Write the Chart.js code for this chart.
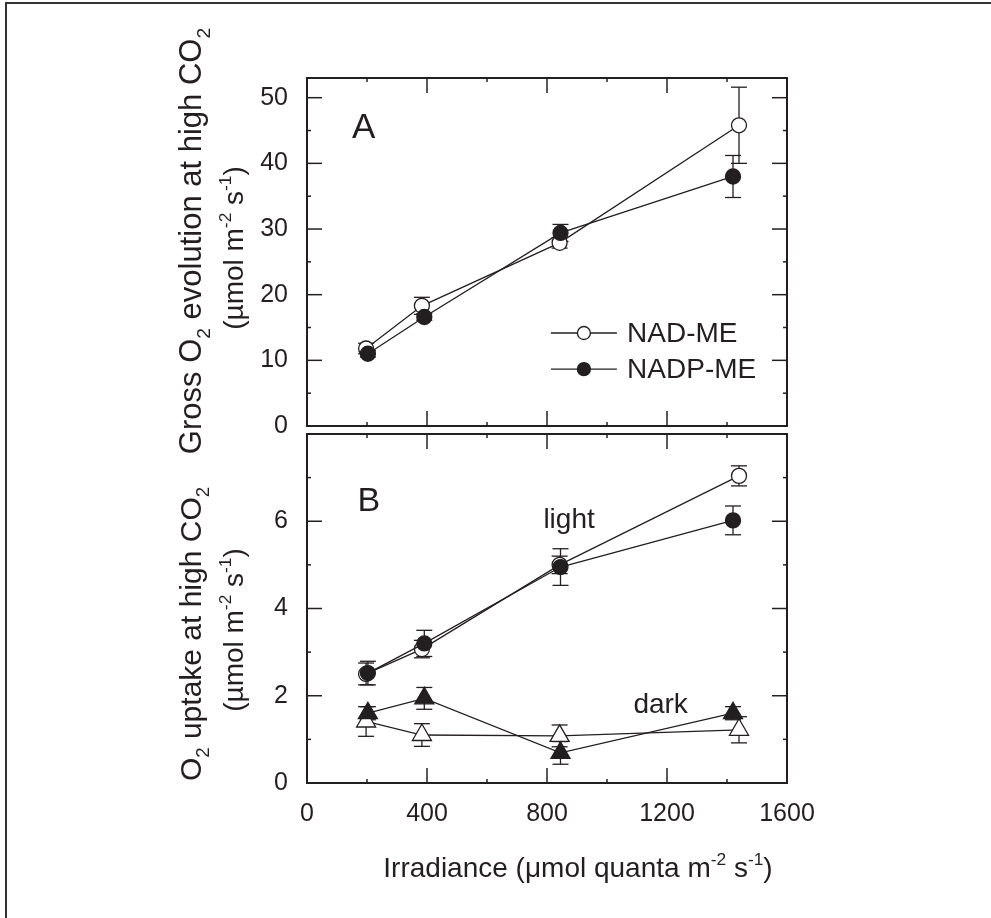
<!DOCTYPE html>
<html>
<head>
<meta charset="utf-8">
<script src="https://cdn.jsdelivr.net/npm/chart.js@4.4.0/dist/chart.umd.min.js"></script>
<style>
  body { margin: 0; background: #fff; }
  #wrap { position: relative; width: 991px; height: 918px; overflow: hidden; background: #fff; }
  #frame { position: absolute; left: 5px; top: 2px; width: 1100px; height: 1100px;
           border-top: 2px solid #333; border-left: 2px solid #333; }
  canvas { position: absolute; left: 0; }
  #cA { top: 0; }
  #cB { top: 400px; }
</style>
</head>
<body>
<div id="wrap">
  <div id="frame"></div>
  <canvas id="cA" width="991" height="460"></canvas>
  <canvas id="cB" width="991" height="518"></canvas>
</div>
<script>
// irradiance of each measurement (umol quanta m-2 s-1)
const irrNAD  = [197, 383, 842, 1440];
const irrNADP = [203, 391, 845, 1420];

// panel A: gross O2 evolution
const grossNAD     = [11.8, 18.3, 27.9, 45.8];
const grossNADerr  = [0.8, 1.3, 0.8, 5.8];
const grossNADP    = [11.0, 16.6, 29.4, 38.0];
const grossNADPerr = [0.5, 0.5, 1.3, 3.2];

// panel B: O2 uptake, light and dark
const lightNAD     = [2.50, 3.07, 5.00, 7.04];
const lightNADerr  = [0.25, 0.20, 0.20, 0.23];
const lightNADP    = [2.52, 3.20, 4.95, 6.02];
const lightNADPerr = [0.27, 0.30, 0.42, 0.33];
const darkNAD      = [1.41, 1.10, 1.08, 1.22];
const darkNADerr   = [0.34, 0.26, 0.25, 0.30];
const darkNADP     = [1.60, 1.94, 0.69, 1.60];
const darkNADPerr  = [0.15, 0.25, 0.26, 0.15];

// ticks
const xMajor  = [0, 400, 800, 1200, 1600];
const xMinor  = [200, 600, 1000, 1400];
const yMajorA = [0, 10, 20, 30, 40, 50];
const yMinorA = [5, 15, 25, 35, 45];
const yMajorB = [0, 2, 4, 6];
const yMinorB = [1, 3, 5, 7];

const seriesNames = ['NAD-ME', 'NADP-ME'];

const INK = '#231f20';
const FONT = '"Liberation Sans", Arial, Helvetica, sans-serif';

function pts(xs, ys) {
  return xs.map((x, i) => ({x: x, y: ys[i]}));
}

function series(label, xs, ys, err, shape, filled) {
  return {
    label: label,
    data: pts(xs, ys),
    err: err,
    borderColor: INK,
    borderWidth: 1.3,
    pointStyle: shape,
    pointRadius: shape == 'triangle' ? 11 : 7.5,
    pointBorderColor: INK,
    pointBorderWidth: 1.3,
    pointBackgroundColor: filled ? INK : '#fff',
    fill: false,
    tension: 0,
    clip: false
  };
}

function line(ctx, x1, y1, x2, y2) {
  ctx.beginPath(); ctx.moveTo(x1, y1); ctx.lineTo(x2, y2); ctx.stroke();
}

// text with sub / superscripts, segs = [[text, ''|'sub'|'sup'], ...]
function richWidth(ctx, segs, size) {
  let w = 0;
  segs.forEach(s => {
    const fs = s[1] ? size * 0.62 : size;
    ctx.font = fs + 'px ' + FONT;
    w += ctx.measureText(s[0]).width;
  });
  return w;
}
function drawRich(ctx, segs, x, y, size) {
  let cx = x;
  segs.forEach(s => {
    const fs = s[1] ? size * 0.62 : size;
    const dy = s[1] == 'sub' ? size * 0.28 : (s[1] == 'sup' ? -size * 0.42 : 0);
    ctx.font = fs + 'px ' + FONT;
    ctx.fillText(s[0], cx, y + dy);
    cx += ctx.measureText(s[0]).width;
  });
}

// vertical error bars, drawn under the markers
const errorBars = {
  id: 'errorBars',
  beforeDatasetsDraw(chart) {
    const ctx = chart.ctx, y = chart.scales.y;
    ctx.save();
    ctx.strokeStyle = INK;
    ctx.lineWidth = 1.3;
    chart.data.datasets.forEach((ds, i) => {
      const meta = chart.getDatasetMeta(i);
      meta.data.forEach((p, j) => {
        const v = ds.data[j].y, e = ds.err[j];
        const top = y.getPixelForValue(v + e), bot = y.getPixelForValue(v - e);
        line(ctx, p.x, top, p.x, bot);
        line(ctx, p.x - 8, top, p.x + 8, top);
        line(ctx, p.x - 8, bot, p.x + 8, bot);
      });
    });
    ctx.restore();
  }
};

// box with inward ticks on all four sides
const frameTicks = {
  id: 'frameTicks',
  afterDraw(chart, args, o) {
    const {ctx, chartArea: a, scales: {x, y}} = chart;
    ctx.save();
    ctx.strokeStyle = INK;
    ctx.lineWidth = 1.5;
    xMajor.forEach(v => {
      const px = x.getPixelForValue(v);
      line(ctx, px, a.bottom, px, a.bottom - 15);
      line(ctx, px, a.top, px, a.top + 15);
    });
    xMinor.forEach(v => {
      const px = x.getPixelForValue(v);
      line(ctx, px, a.bottom, px, a.bottom - 4);
      line(ctx, px, a.top, px, a.top + 4);
    });
    o.yMajor.forEach(v => {
      const py = y.getPixelForValue(v);
      line(ctx, a.left, py, a.left + 15, py);
      line(ctx, a.right, py, a.right - 15, py);
    });
    o.yMinor.forEach(v => {
      const py = y.getPixelForValue(v);
      line(ctx, a.left, py, a.left + 4, py);
      line(ctx, a.right, py, a.right - 4, py);
    });
    ctx.lineWidth = 2;
    ctx.strokeRect(a.left, a.top, a.right - a.left, a.bottom - a.top);
    ctx.restore();
  }
};

// panel letters and in-plot labels, placed in data units
const notes = {
  id: 'notes',
  afterDraw(chart, args, o) {
    const {ctx, scales: {x, y}} = chart;
    ctx.save();
    ctx.fillStyle = INK;
    ctx.textBaseline = 'alphabetic';
    o.items.forEach(n => {
      ctx.font = n.size + 'px ' + FONT;
      ctx.fillText(n.text, x.getPixelForValue(n.x), y.getPixelForValue(n.y));
    });
    ctx.restore();
  }
};

// legend drawn inside panel A
const legendBox = {
  id: 'legendBox',
  afterDraw(chart, args, o) {
    if (!o.rows) return;
    const {ctx, scales: {x, y}} = chart;
    ctx.save();
    ctx.strokeStyle = INK;
    ctx.lineWidth = 1.3;
    const x1 = x.getPixelForValue(o.x1), x2 = x.getPixelForValue(o.x2);
    const tx = x.getPixelForValue(o.textX);
    o.rows.forEach(r => {
      const ds = chart.data.datasets.find(d => d.label == r.label);
      const py = y.getPixelForValue(r.y);
      line(ctx, x1, py, x2, py);
      ctx.beginPath();
      ctx.arc((x1 + x2) / 2, py, 6.5, 0, Math.PI * 2);
      ctx.fillStyle = ds.pointBackgroundColor;
      ctx.fill();
      ctx.stroke();
      ctx.fillStyle = INK;
      ctx.font = '28px ' + FONT;
      ctx.textBaseline = 'middle';
      ctx.fillText(r.label, tx, py + 1);
    });
    ctx.restore();
  }
};

// two-line rotated y title and optional x title
const titles = {
  id: 'titles',
  afterDraw(chart, args, o) {
    const ctx = chart.ctx;
    ctx.save();
    ctx.fillStyle = INK;
    ctx.textBaseline = 'alphabetic';
    o.yLines.forEach(l => {
      ctx.save();
      ctx.translate(l.base, l.center);
      ctx.rotate(-Math.PI / 2);
      const w = richWidth(ctx, l.segs, l.size);
      drawRich(ctx, l.segs, -w / 2, 0, l.size);
      ctx.restore();
    });
    if (o.xLine) {
      const l = o.xLine;
      ctx.save();
      ctx.translate(l.center, l.base);
      ctx.scale(l.squeeze, 1);
      const w = richWidth(ctx, l.segs, l.size);
      drawRich(ctx, l.segs, -w / 2, 0, l.size);
      ctx.restore();
    }
    ctx.restore();
  }
};

const unitSegs = [['(µmol m', ''], ['-2', 'sup'], [' s', ''], ['-1', 'sup'], [')', '']];

function yAxis(max, major) {
  return {
    type: 'linear', min: 0, max: max,
    afterFit: s => { s.width = 307; },
    afterBuildTicks: s => { s.ticks = major.map(v => ({value: v})); },
    grid: {display: false, drawTicks: false},
    border: {display: false},
    ticks: {padding: 19, color: INK, font: {family: FONT, size: 25}, callback: v => String(v)}
  };
}

// Panel A
new Chart(document.getElementById('cA'), {
  type: 'line',
  data: {
    datasets: [
      series(seriesNames[1], irrNADP, grossNADP, grossNADPerr, 'circle', true),
      series(seriesNames[0], irrNAD, grossNAD, grossNADerr, 'circle', false)
    ]
  },
  options: {
    responsive: false, animation: false, devicePixelRatio: 1,
    layout: {padding: {left: 0, top: 78, right: 204, bottom: 29}},
    scales: {
      x: {type: 'linear', min: 0, max: 1600, display: false},
      y: yAxis(53, yMajorA)
    },
    plugins: {
      legend: {display: false},
      tooltip: {enabled: false},
      frameTicks: {yMajor: yMajorA, yMinor: yMinorA},
      notes: {items: [{text: 'A', x: 150, y: 43.9, size: 35}]},
      legendBox: {x1: 813, x2: 1033, textX: 1067,
                  rows: [{label: seriesNames[0], y: 14.16}, {label: seriesNames[1], y: 8.66}]},
      titles: {yLines: [
        {segs: [['Gross O', ''], ['2', 'sub'], [' evolution at high CO', ''], ['2', 'sub']], size: 31, base: 201, center: 241},
        {segs: unitSegs, size: 28, base: 243, center: 248}
      ]}
    }
  },
  plugins: [errorBars, frameTicks, notes, legendBox, titles]
});

// Panel B
new Chart(document.getElementById('cB'), {
  type: 'line',
  data: {
    datasets: [
      series(seriesNames[1] + ' light', irrNADP, lightNADP, lightNADPerr, 'circle', true),
      series(seriesNames[1] + ' dark', irrNADP, darkNADP, darkNADPerr, 'triangle', true),
      series(seriesNames[0] + ' light', irrNAD, lightNAD, lightNADerr, 'circle', false),
      series(seriesNames[0] + ' dark', irrNAD, darkNAD, darkNADerr, 'triangle', false)
    ]
  },
  options: {
    responsive: false, animation: false, devicePixelRatio: 1,
    layout: {padding: {left: 0, top: 31, right: 204, bottom: 0}},
    scales: {
      x: {
        type: 'linear', min: 0, max: 1600,
        afterFit: s => { s.height = 135; },
        afterBuildTicks: s => { s.ticks = xMajor.map(v => ({value: v})); },
        grid: {display: false, drawTicks: false},
        border: {display: false},
        ticks: {padding: 16, maxRotation: 0, autoSkip: false, color: INK,
                font: {family: FONT, size: 25}, callback: v => String(v)}
      },
      y: yAxis(8, yMajorB)
    },
    plugins: {
      legend: {display: false},
      tooltip: {enabled: false},
      frameTicks: {yMajor: yMajorB, yMinor: yMinorB},
      notes: {items: [
        {text: 'B', x: 168, y: 6.24, size: 34},
        {text: 'light', x: 788, y: 5.84, size: 28},
        {text: 'dark', x: 1088, y: 1.61, size: 28}
      ]},
      titles: {
        yLines: [
          {segs: [['O', ''], ['2', 'sub'], [' uptake at high CO', ''], ['2', 'sub']], size: 30, base: 201, center: 234},
          {segs: unitSegs, size: 28, base: 243, center: 230}
        ],
        xLine: {segs: [['Irradiance (μmol quanta m', ''], ['-2', 'sup'], [' s', ''], ['-1', 'sup'], [')', '']],
                size: 28, squeeze: 1, center: 578, base: 477}
      }
    }
  },
  plugins: [errorBars, frameTicks, notes, titles]
});
</script>
</body>
</html>
